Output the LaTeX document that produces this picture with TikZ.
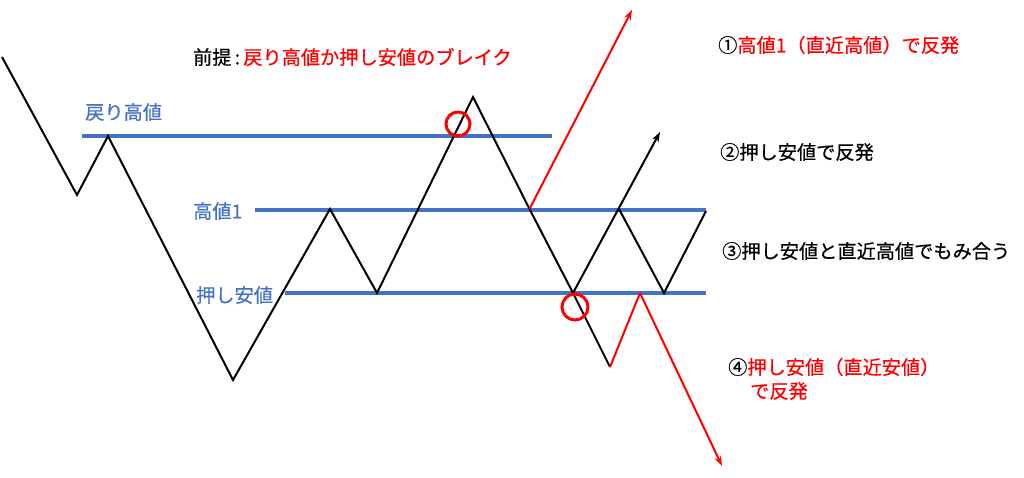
\documentclass[tikz,border=0pt]{standalone}
\usepackage{fontspec}
\setmainfont{Noto Sans CJK JP}[FakeBold=0.6]
\usetikzlibrary{arrows.meta}
\definecolor{lblue}{RGB}{68,114,196}
\definecolor{myred}{RGB}{255,0,0}
\begin{document}
\begin{tikzpicture}[x=1pt,y=-1pt,
  price/.style={line width=2pt,black,line join=miter},
  redp/.style={line width=2pt,myred},
  level/.style={line width=3.3pt,lblue},
  ring/.style={draw=myred,line width=3pt,circle,minimum size=24pt,inner sep=0pt},
  lbl/.style={font=\fontsize{19.2pt}{21pt}\selectfont,anchor=west,inner sep=0pt},
  arr/.style={-{Stealth[length=10pt,width=7pt]}}]
\useasboundingbox (0,0) rectangle (1024,477);
% levels
\coordinate (L1a) at (82,136); \coordinate (L1b) at (552,136);
\coordinate (L2a) at (255,210); \coordinate (L2b) at (706,210);
\coordinate (L3a) at (285,293); \coordinate (L3b) at (706,293);
\draw[level] (L1a) -- (L1b);
\draw[level] (L2a) -- (L2b);
\draw[level] (L3a) -- (L3b);
% zigzag points
\coordinate (p0) at (2,57);
\coordinate (p1) at (77,195);
\coordinate (p2) at (108,136);
\coordinate (p3) at (233,380);
\coordinate (p4) at (330,209);
\coordinate (p5) at (377,293);
\coordinate (p6) at (473,97);
\coordinate (p7) at (529.5,209);
\coordinate (p8) at (573,293);
\coordinate (p9) at (610,367);
\coordinate (q1) at (619,209);
\coordinate (q2) at (664,293);
\coordinate (q3) at (706,211);
\coordinate (a2) at (660,132);
\coordinate (r1) at (640,293);
\coordinate (a1) at (632,10);
\coordinate (a4) at (722,466);
\draw[price] (p0) -- (p1) -- (p2) -- (p3) -- (p4) -- (p5) -- (p6) -- (p7) -- (p8) -- (p9);
\draw[price] (q1) -- (q2) -- (q3);
\draw[price,arr] (p8) -- (a2);
\draw[redp,arr] (p7) -- (a1);
\draw[redp] (p9) -- (r1);
\draw[redp,arr] (r1) -- (a4);
% rings
\node[ring] (c1) at (458,124) {};
\node[ring,minimum size=26pt] (c2) at (575,307) {};
% level labels
\node[lbl,text=lblue] (t1) at (85,112) {戻り高値};
\node[lbl,text=lblue] (t2) at (193,211) {高値1};
\node[lbl,text=lblue] (t3) at (196,295) {押し安値};
% title
\node[lbl] (title) at (193,57) {前提\,:\,\textcolor{myred}{戻り高値か押し安値のブレイク}};
% right notes
\node[lbl] (n1) at (718,45) {①\textcolor{myred}{高値1（直近高値）で反発}};
\node[lbl] (n2) at (720,152) {②押し安値で反発};
\node[lbl] (n3) at (722,251) {③押し安値と直近高値でもみ合う};
\node[lbl] (n4) at (728,367) {④\textcolor{myred}{押し安値（直近安値）}};
\node[lbl,text=myred] (n5) at (750,391) {で反発};
\end{tikzpicture}
\end{document}
